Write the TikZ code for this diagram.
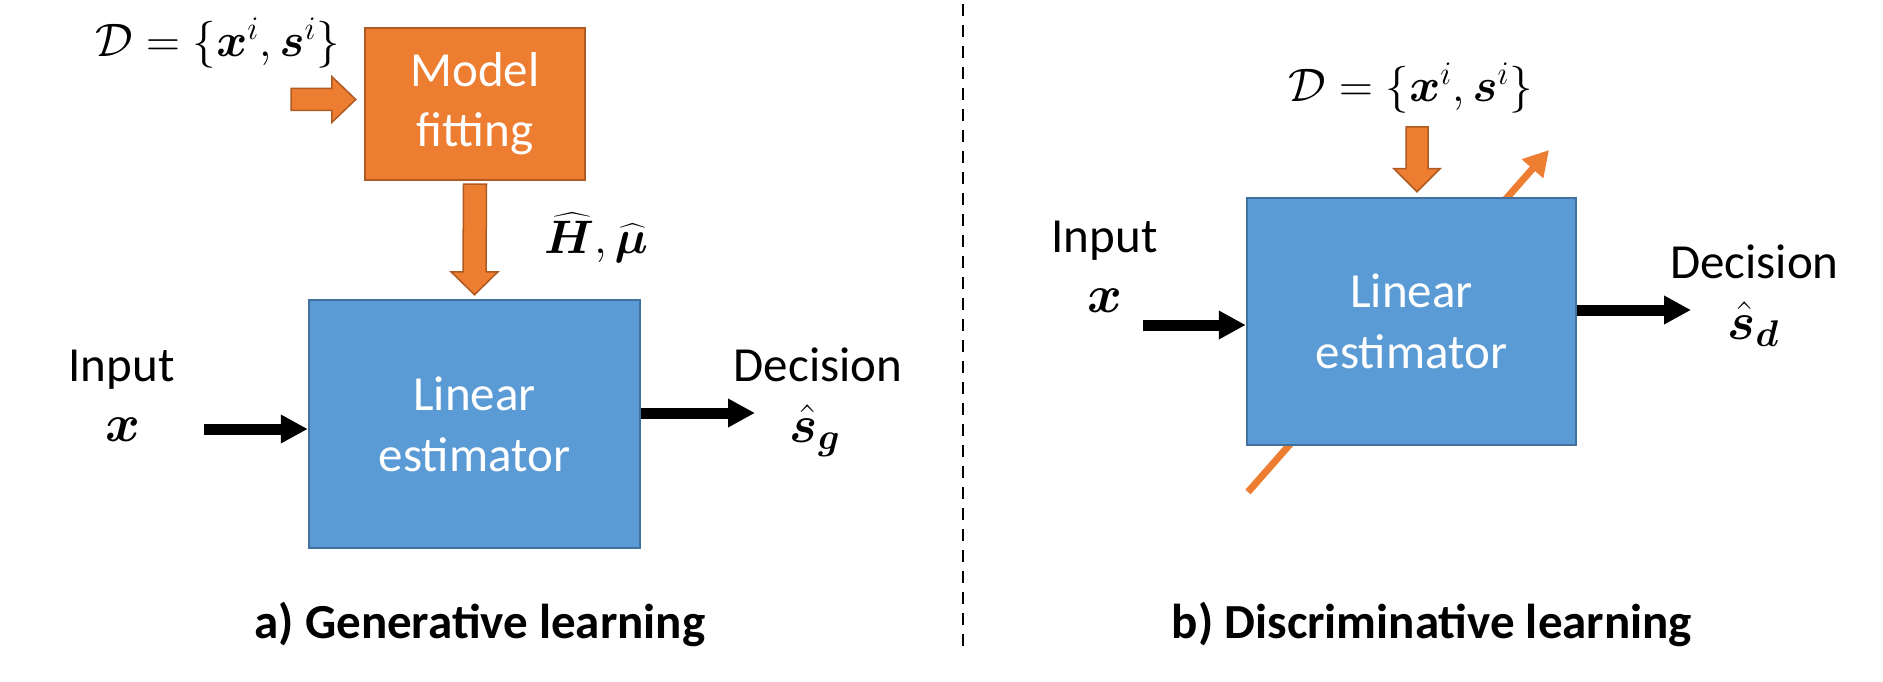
\RequirePackage{fix-cm}
\documentclass[tikz,border=0pt]{standalone}
\usepackage{amsmath}
\usepackage[no-math]{fontspec}
\setmainfont{Carlito}
\usepackage{bm}
\usetikzlibrary{arrows.meta,calc}
\definecolor{orfill}{HTML}{ED7D31}
\definecolor{ordraw}{HTML}{AE5A21}
\definecolor{blfill}{HTML}{5B9BD5}
\definecolor{bldraw}{HTML}{41719C}
% block arrow pointing down: #1 start (top centre), #2 tip, #3 shaft half width, #4 head half width, #5 head length
\newcommand{\blkdown}[5]{%
  \filldraw[blockarrow] ($(#1)+(-#3,0)$) -- ($(#1)+(#3,0)$) -- ($(#2)+(#3,-#5)$) -- ($(#2)+(#4,-#5)$) -- (#2)
    -- ($(#2)+(-#4,-#5)$) -- ($(#2)+(-#3,-#5)$) -- cycle;}
% block arrow pointing right
\newcommand{\blkright}[5]{%
  \filldraw[blockarrow] ($(#1)+(0,-#3)$) -- ($(#2)+(-#5,-#3)$) -- ($(#2)+(-#5,-#4)$) -- (#2)
    -- ($(#2)+(-#5,#4)$) -- ($(#2)+(-#5,#3)$) -- ($(#1)+(0,#3)$) -- cycle;}
\begin{document}
\begin{tikzpicture}[x=1pt,y=-1pt,
  obox/.style={draw=ordraw,fill=orfill,line width=2.5pt,text=white,align=center,inner sep=0pt,
    font=\fontsize{49}{60}\selectfont},
  bbox/.style={draw=bldraw,fill=blfill,line width=2.5pt,text=white,align=center,inner sep=0pt,
    font=\fontsize{49}{61}\selectfont},
  lbl/.style={inner sep=0pt,font=\fontsize{49}{60}\selectfont},
  mlbl/.style={inner sep=0pt,font=\fontsize{47}{56}\selectfont},
  slbl/.style={inner sep=0pt,font=\fontsize{53}{60}\selectfont},
  tlbl/.style={inner sep=0pt,font=\fontsize{49}{60}\selectfont\bfseries},
  blockarrow/.style={draw=ordraw,fill=orfill,line width=1.5pt,line join=miter},
  karrow/.style={draw=black,line width=11pt,-{Triangle[length=27pt,width=27pt]}},
  oarrow/.style={draw=orfill,line width=7pt,-{Triangle[length=25pt,width=27pt]}},
  sepline/.style={draw=black,line width=2.7pt,dash pattern=on 12pt off 9pt}]
\useasboundingbox (0,0) rectangle (1883,682);

% separator
\coordinate (sepT) at (963,4);
\coordinate (sepB) at (963,646);
\draw[sepline] (sepT) -- (sepB);

% ---------- a) generative ----------
\node[obox,minimum width=220pt,minimum height=152pt] (fit) at (475,104) {Model\\fitting};
\node[bbox,minimum width=331pt,minimum height=248pt] (est1) at (474.5,424) {Linear\\estimator};
\node[mlbl,anchor=base] (d1) at (217.5,57) {$\mathcal{D}=\{\bm{x}^i,\bm{s}^i\}$};
\coordinate (d1a) at (291,99.5);
\coordinate (d1t) at ($(d1a -| fit.west)+(-8,0)$);
\blkright{d1a}{d1t}{11}{23}{24}
\coordinate (a1s) at ($(fit.south)+(0,3)$);
\coordinate (a1t) at ($(est1.north)+(0,-4)$);
\blkdown{a1s}{a1t}{11.5}{23.5}{23}
\node[mlbl,anchor=base] (hm) at (596,253) {$\widehat{\bm{H}},\widehat{\bm{\mu}}$};
\node[lbl,anchor=base] (in1) at (121.5,381) {Input};
\node[slbl,anchor=base] (x1) at (122.5,441) {$\bm{x}$};
\node[lbl,anchor=base] (de1) at (818,381) {Decision};
\node[slbl,anchor=base] (sg) at (815,442) {$\hat{\bm{s}}_{\bm{g}}$};
\coordinate (i1) at (204,429);
\draw[karrow] (i1) -- (i1 -| est1.west);
\coordinate (o1) at (755,413);
\draw[karrow] (o1 -| est1.east) -- (o1);
\node[tlbl,anchor=base] (ta) at (480,638) {a) Generative learning};

% ---------- b) discriminative ----------
\coordinate (g1) at (1248,492);
\coordinate (g2) at (1549,150);
\draw[oarrow] (g1) -- (g2);
\node[bbox,minimum width=329pt,minimum height=247pt] (est2) at (1411.5,321.5) {Linear\\estimator};
\node[mlbl,anchor=base] (d2) at (1410.5,102) {$\mathcal{D}=\{\bm{x}^i,\bm{s}^i\}$};
\coordinate (a2s) at (1417,127);
\coordinate (a2t) at ($(a2s |- est2.north)+(0,-5)$);
\blkdown{a2s}{a2t}{11}{23}{23}
\node[lbl,anchor=base] (in2) at (1104.5,252) {Input};
\node[slbl,anchor=base] (x2) at (1105,312) {$\bm{x}$};
\node[lbl,anchor=base] (de2) at (1754.5,278) {Decision};
\node[slbl,anchor=base] (sd) at (1753,339) {$\hat{\bm{s}}_{\bm{d}}$};
\coordinate (i2) at (1143,325);
\draw[karrow] (i2) -- (i2 -| est2.west);
\coordinate (o2) at (1691,310);
\draw[karrow] (o2 -| est2.east) -- (o2);
\node[tlbl,anchor=base] (tb) at (1432,638) {b) Discriminative learning};
\end{tikzpicture}
\end{document}
